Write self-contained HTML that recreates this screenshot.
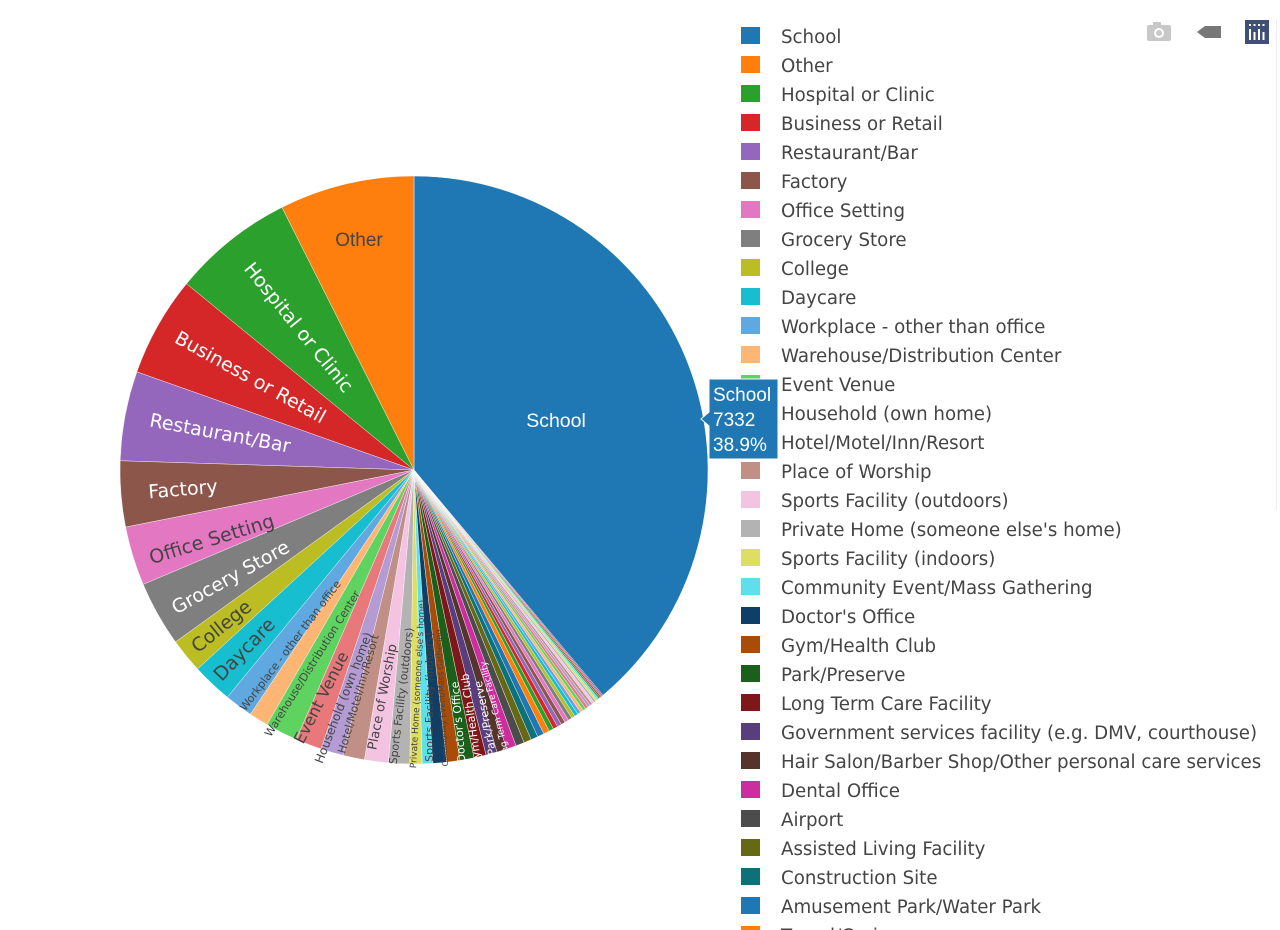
<!DOCTYPE html>
<html><head><meta charset="utf-8"><style>
body{margin:0;background:#fff;width:1280px;height:930px;overflow:hidden;position:relative;font-family:"DejaVu Sans","Liberation Sans",sans-serif}
svg{position:absolute;left:0;top:0}
</style></head><body>
<svg id="s" width="1280" height="930" xmlns="http://www.w3.org/2000/svg"></svg>
<script>
var cx=414,cy=470,R=294;
var items=[
["School","#1f77b4",140],
["Other","#ff7f0e",26.7],["Hospital or Clinic","#2ca02c",24],["Business or Retail","#d62728",19.8],
["Restaurant/Bar","#9467bd",17.7],["Factory","#8c564b",13],["Office Setting","#e377c2",11.7],
["Grocery Store","#7f7f7f",12.9],["College","#bcbd22",6.8],["Daycare","#17becf",8],
["Workplace - other than office","#5fa8e0",5.6],["Warehouse/Distribution Center","#ffb574",3.8],
["Event Venue","#5fd35f",6.4],["Household (own home)","#e8787a",5.2],["Hotel/Motel/Inn/Resort","#b49bd3",4.4],
["Place of Worship","#c08f85",4.3],["Sports Facility (outdoors)","#f5c3e2",4.7],["Private Home (someone else's home)","#b3b3b3",4.2],
["Sports Facility (indoors)","#dede62",2.4],["Community Event/Mass Gathering","#5ee0ec",2.1],["Doctor's Office","#0f3f66",2.7],
["Gym/Health Club","#a84c08",2.6],["Park/Preserve","#1a601a",2.8],["Long Term Care Facility","#7f1718",2.4],
["Government services facility (e.g. DMV, courthouse)","#593e7e",2.2],["Hair Salon/Barber Shop/Other personal care services","#54342d",2],
["Dental Office","#cc2ea0",1.9],["Airport","#4c4c4c",1.7],["Assisted Living Facility","#676814",1.5],
["Construction Site","#0e7078",1.4],["Amusement Park/Water Park","#1f77b4",1.3],["Travel/Cruise","#ff7f0e",1.2]];
var pal=["#2ca02c","#d62728","#9467bd","#8c564b","#e377c2","#7f7f7f","#bcbd22","#17becf","#5fa8e0","#ffb574","#5fd35f","#e8787a","#b49bd3","#c08f85","#f5c3e2","#b3b3b3","#dede62","#5ee0ec"];
var used=0;items.forEach(function(i){used+=i[2]});
var rem=360-used,n=22,w=[];var sw=0;for(var k=0;k<n;k++){w.push(n-k*0.8);sw+=n-k*0.8}
for(var k=0;k<n;k++)items.push(["x"+k,pal[k%pal.length],rem*w[k]/sw]);
var s='';
function pt(a){var r=a*Math.PI/180;return [cx+R*Math.sin(r),cy-R*Math.cos(r)]}
var p0=pt(0),p1=pt(140);
s+='<path d="M'+cx+','+cy+'L'+p0+'A'+R+','+R+' 0 0 1 '+p1+'Z" fill="#1f77b4" stroke="#fff" stroke-width="0.5"/>';
var a=360;
for(var k=1;k<items.length;k++){var d=items[k][2];var b=a-d;var q0=pt(a),q1=pt(b);
s+='<path d="M'+cx+','+cy+'L'+q0+'A'+R+','+R+' 0 0 0 '+q1+'Z" fill="'+items[k][1]+'" stroke="#fff" stroke-width="0.4"/>';a=b;}
var L=[["Hospital or Clinic",298,328,51,19,"#fff"],["Business or Retail",250,378,29,19,"#fff"],["Restaurant/Bar",220,434,10.6,19,"#fff"],
["Factory",183,490,-4.7,19,"#fff"],["Office Setting",212,540,-17,19,"#444"],["Grocery Store",231,578,-29,19,"#fff"],
["College",222,627,-39,19,"#444"],["Daycare",245,650,-46,19,"#444"],["Workplace - other than office",291,646,-53,11,"#444"],
["Warehouse/Distribution Center",313,664,-58,11,"#444"],["Event Venue",322,698,-63,16,"#444"],["Household (own home)",344,698,-69,12,"#444"],
["Hotel/Motel/Inn/Resort",359,694,-74,11,"#444"],["Place of Worship",383,697,-79,13,"#444"],["Sports Facility (outdoors)",402,696,-83,11,"#444"],
["Private Home (someone else's home)",418,684,-87,9,"#444"],["Sports Facility (indoors)",430,697,-90,11,"#444"],["Community Event/Mass Gathering",442,698,-93,8,"#444"],
["Doctor's Office",459,722,-95,11,"#fff"],["Gym/Health Club",472,720,-98,11,"#fff"],["Park/Preserve",486,718,-101,11,"#fff"],["Long Term Care Facility",496,712,-104,9,"#fff"]];
L.forEach(function(l){s+='<text x="'+l[1]+'" y="'+l[2]+'" transform="rotate('+l[3]+' '+l[1]+' '+l[2]+')" text-anchor="middle" dominant-baseline="middle" font-family="DejaVu Sans, sans-serif" font-size="'+l[4]+'" fill="'+l[5]+'">'+l[0]+'</text>'});
s+='<text x="556" y="427" text-anchor="middle" font-family="Liberation Sans, sans-serif" font-size="19.5" fill="#fff">School</text>';
s+='<text x="359" y="246" text-anchor="middle" font-family="Liberation Sans, sans-serif" font-size="19" fill="#444">Other</text>';
for(var k=0;k<32;k++){var y=36+k*29;var it=items[k];
s+='<rect x="741" y="'+(y-9)+'" width="19" height="17" fill="'+it[1]+'"/>';
s+='<text x="781" y="'+(y+7)+'" font-family="DejaVu Sans, sans-serif" font-size="18.2" fill="#444">'+it[0]+'</text>';}
s+='<path d="M709,379H778V459H709V426L701,419L709,412Z" fill="#1f77b4" stroke="#fff" stroke-width="1"/>';
s+='<g font-family="Liberation Sans, sans-serif" font-size="19" fill="#fff"><text x="713" y="401">School</text><text x="713" y="426">7332</text><text x="713" y="451">38.9%</text></g>';
s+='<rect x="1147" y="25" width="24" height="16" rx="2" fill="#c8c8c8"/><rect x="1153" y="22" width="8" height="4" fill="#c8c8c8"/><circle cx="1159" cy="33" r="5" fill="#fff"/><circle cx="1159" cy="33" r="3" fill="#c8c8c8"/>';
s+='<path d="M1197,32L1205,26H1221V38H1205Z" fill="#777"/>';
s+='<rect x="1245" y="20" width="24" height="24" fill="#3f4f75"/>';
for(var i=0;i<4;i++){s+='<rect x="'+(1249+i*4.5)+'" y="24" width="2" height="2" fill="#fff"/><rect x="'+(1249+i*4.5)+'" y="'+(29+(i%2)*3)+'" width="2" height="'+(11-(i%2)*3)+'" fill="#fff"/>';}
s+='<rect x="1276" y="20" width="1" height="490" fill="#eee"/>';
document.getElementById('s').innerHTML=s;
</script>
</body></html>
